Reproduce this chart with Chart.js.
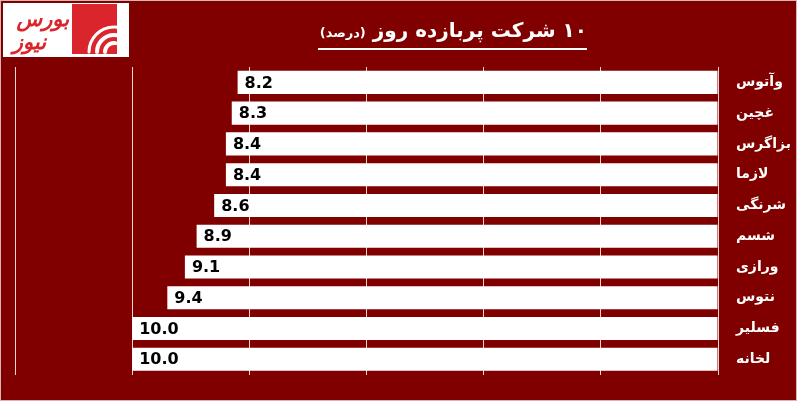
<!DOCTYPE html>
<html>
<head>
<meta charset="utf-8">
<script src="https://cdn.jsdelivr.net/npm/chart.js@4/dist/chart.umd.min.js"></script>
<style>
  html, body { margin: 0; padding: 0; background: #800000; }
  #wrap { position: relative; width: 797px; height: 401px; box-sizing: border-box; border: 1px solid #d8b4b4; overflow: hidden; }
  #myChart { position: absolute; left: -1px; top: -1px; }
  #title { position: absolute; left: 317px; top: 13px; width: 269px; height: 34px; border-bottom: 2px solid #fff;
    direction: rtl; text-align: right; color: #fff; font-family: "DejaVu Sans", sans-serif; font-weight: bold;
    font-size: 20px; line-height: 32px; white-space: nowrap; }
  #title small { font-size: 13px; }
</style>
</head>
<body>
<div id="wrap">
  <canvas id="myChart" width="797" height="401"></canvas>
  <div id="title">۱۰ شرکت پربازده روز <small>(درصد)</small></div>
</div>
<script>
var labels = ["وآتوس", "غچین", "بزاگرس", "لازما", "شرنگی", "شسم", "ورازی", "نتوس", "فسلیر", "لخانه"],
  values = [8.2, 8.3, 8.4, 8.4, 8.6, 8.9, 9.1, 9.4, 10.0, 10.0],
  ctx = document.getElementById("myChart");

// logo box in the top left corner
var logo = {
  id: "logo",
  beforeDraw: function(chart) {
    var c = chart.ctx;
    c.save();
    c.fillStyle = "#fff";
    c.fillRect(3, 3, 126, 54);
    c.fillStyle = "#d9252b";
    c.fillRect(72, 4, 45, 50);
    c.strokeStyle = "#fff";
    c.lineCap = "round";
    [[9, 4], [17, 4], [25, 3]].forEach(function(a) {
      c.lineWidth = a[1];
      c.beginPath();
      c.arc(114, 52, a[0], Math.PI * 1.0, Math.PI * 1.55);
      c.stroke();
    });
    c.fillStyle = "#d9252b";
    c.font = "italic bold 21px 'DejaVu Sans'";
    c.textAlign = "right";
    c.direction = "rtl";
    c.fillText("بورس", 69, 26);
    c.fillText("نیوز", 46, 49);
    c.restore();
  }
};

// value text at the left end of each bar
var valueLabels = {
  id: "valueLabels",
  afterDatasetsDraw: function(chart) {
    var c = chart.ctx;
    c.save();
    c.fillStyle = "#000";
    c.font = "bold 16px 'DejaVu Sans'";
    c.textAlign = "left";
    c.textBaseline = "middle";
    chart.getDatasetMeta(0).data.forEach(function(bar, i) {
      c.fillText(values[i].toFixed(1), bar.x + 7, bar.y + 1);
    });
    c.restore();
  }
};

var config = {
  type: "bar",
  data: {
    labels: labels,
    datasets: [
      {
        data: values,
        backgroundColor: "#fff",
        borderWidth: 0,
        categoryPercentage: 1,
        barPercentage: 0.75
      }
    ]
  },
  options: {
    indexAxis: "y",
    responsive: false,
    animation: false,
    layout: { padding: { left: 15, top: 67, bottom: 14, right: 0 } },
    plugins: { legend: { display: false }, tooltip: { enabled: false } },
    scales: {
      x: {
        reverse: true,
        min: 0,
        max: 12,
        ticks: { display: false, stepSize: 2 },
        grid: { color: "#f0d4d4", lineWidth: 1, drawTicks: false },
        border: { display: false }
      },
      y: {
        position: "right",
        grid: { display: false, drawTicks: false },
        border: { display: false },
        ticks: {
          color: "#fff",
          font: { family: "DejaVu Sans", weight: "bold", size: 14 },
          crossAlign: "near",
          padding: 18
        },
        afterFit: function(s) { s.width = 79; }
      }
    }
  },
  plugins: [logo, valueLabels]
};

myChart = new Chart(ctx, config);
</script>
</body>
</html>
